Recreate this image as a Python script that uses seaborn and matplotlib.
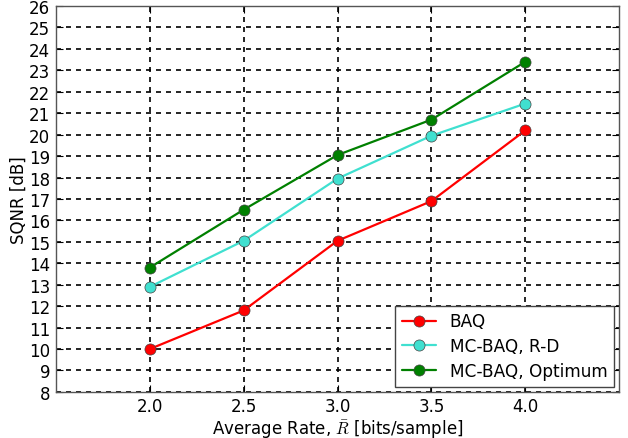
import matplotlib
matplotlib.use("Agg")
import matplotlib.pyplot as plt
import seaborn as sns
import pandas as pd

rates = [2.0, 2.5, 3.0, 3.5, 4.0]
baq = [10.0, 11.8, 15.05, 16.9, 20.2]
mc_rd = [12.9, 15.05, 17.95, 19.95, 21.45]
mc_opt = [13.8, 16.5, 19.05, 20.7, 23.4]
series_names = ["BAQ", "MC-BAQ, R-D", "MC-BAQ, Optimum"]
colors = ["#ff0000", "#40e0d0", "#008000"]
xticks = [2.0, 2.5, 3.0, 3.5, 4.0]
yticks = list(range(8, 27))

sns.set_style("white")
plt.rcParams['font.family'] = ['DejaVu Sans']
plt.rcParams['mathtext.fontset'] = 'cm'
plt.rcParams['text.color'] = 'black'
plt.rcParams['axes.labelcolor'] = 'black'
plt.rcParams['xtick.color'] = 'black'
plt.rcParams['ytick.color'] = 'black'

rows = []
for name, vals in zip(series_names, [baq, mc_rd, mc_opt]):
    for r, v in zip(rates, vals):
        rows.append({"rate": r, "sqnr": v, "series": name})
df = pd.DataFrame(rows)

fig = plt.figure(figsize=(6.28, 4.39), dpi=100)
ax = fig.add_axes([0.089, 0.105, 0.897, 0.879])

sns.lineplot(data=df, x="rate", y="sqnr", hue="series", hue_order=series_names,
             palette=colors, marker="o", markersize=8, linewidth=1.6,
             markeredgecolor="#444444", markeredgewidth=0.5, ax=ax)

ax.set_xlim(1.5, 4.5)
ax.set_ylim(8, 26)
ax.set_xticks(xticks)
ax.set_xticklabels([f"{t:.1f}" for t in xticks])
ax.set_yticks(yticks)
ax.grid(True, color="black", linestyle=(0, (3, 3)), linewidth=1.2)
ax.tick_params(direction="in", length=5, labelsize=12, top=True, right=True,
               bottom=True, left=True, color="black", pad=4)
for s in ax.spines.values():
    s.set_color("#555555")
    s.set_linewidth(1.0)
ax.set_xlabel(r"Average Rate, $\bar{R}$ [bits/sample]", fontsize=12, labelpad=1)
ax.set_ylabel("SQNR [dB]", fontsize=12, labelpad=1)

leg = ax.legend(loc="lower right", fontsize=12.2, frameon=True, fancybox=False,
                borderaxespad=0.3, handlelength=2.0, framealpha=1,
                labelspacing=0.4)
leg.get_frame().set_edgecolor("#444444")
leg.get_frame().set_linewidth(1.0)

fig.savefig("out.png", dpi=100)
